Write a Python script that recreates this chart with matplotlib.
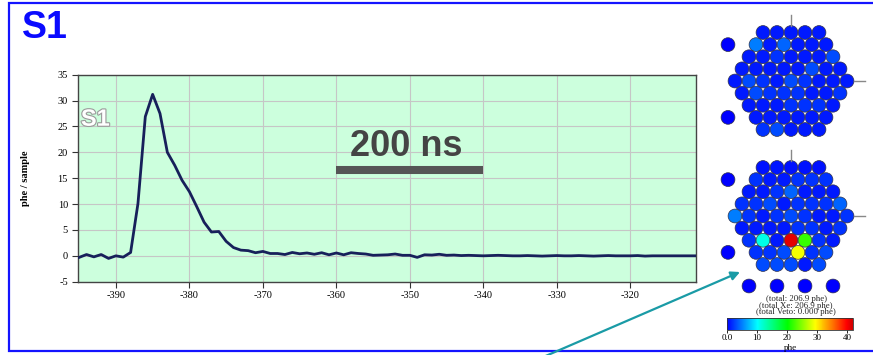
import numpy as np
import matplotlib
matplotlib.use('Agg')
import matplotlib.pyplot as plt
import matplotlib.patheffects as pe
from matplotlib.patches import Circle
from matplotlib.colors import LinearSegmentedColormap, Normalize
from matplotlib.cm import ScalarMappable

plt.rcParams['axes.unicode_minus'] = False

# S1 pulse, one sample per time bin
t_first = -395
wave_phe = [
    -0.3, 0.25, -0.2, 0.25, -0.5, 0.0, -0.25, 0.65, 10.1, 26.9,
    31.2, 27.5, 20.0, 17.5, 14.6, 12.4, 9.5, 6.5, 4.6, 4.7,
    2.8, 1.6, 1.1, 1.0, 0.6, 0.85, 0.45, 0.45, 0.25, 0.65,
    0.4, 0.55, 0.3, 0.6, 0.2, 0.55, 0.2, 0.6, 0.45, 0.35,
    0.1, 0.15, 0.2, 0.35, 0.1, 0.1, -0.3, 0.2, 0.15, 0.3,
    0.1, 0.15, 0.05, 0.1, 0.05, 0.0, 0.05, 0.1, 0.05, 0.0,
    0.0, 0.05, 0.0, -0.05, 0.0, 0.05, 0.0, 0.0, 0.05, 0.0,
    -0.05, 0.0, 0.05, 0.0, 0.0, 0.0, 0.05, -0.05, 0.0, 0.0,
    0.0, 0.0, 0.0, 0.0, 0.0,
]
wave_t = t_first + np.arange(len(wave_phe))

x_ticks = [-390, -380, -370, -360, -350, -340, -330, -320]
y_ticks = [-5, 0, 5, 10, 15, 20, 25, 30, 35]

# phe per PMT, hexagonal rows (5-6-7-8-9-8-7-6-5)
top_rows = [
    [1, 1, 1, 1, 1],
    [5, 1, 4, 1, 1, 1],
    [1, 1, 2, 1, 1, 1, 3],
    [1, 1, 1, 1, 1, 3, 1, 1],
    [1, 3, 2, 1, 3, 2, 1, 1, 1],
    [1, 3, 2, 2, 2, 1, 1, 2],
    [1, 1, 1, 2, 2, 2, 1],
    [1, 1, 1, 1, 1, 1],
    [2, 3, 1, 1, 1],
]
top_veto = [0, 0]

bottom_rows = [
    [0.8, 0.9, 0.7, 0.8, 0.7],
    [2, 1, 1, 2, 2, 2],
    [1, 1, 2, 4, 1, 1, 1],
    [2, 2, 3, 1, 2, 2, 2, 4],
    [5, 2, 1, 2, 3, 2, 1, 1, 2],
    [1, 1, 1, 1, 2, 2, 1, 2],
    [2, 11, 1, 41, 22, 2, 1],
    [2, 2, 3, 29, 2, 3],
    [3, 3, 3, 1, 3],
]
bottom_veto = [0, 0]
bottom_ring = [0, 0, 0, 0]

cbar_ticks = [0, 10, 20, 30, 40]
cbar_ticklabels = ['0.0', '10', '20', '30', '40']
totals = ['(total: 206.9 phe)', '(total Xe: 206.9 phe)', '(total Veto: 0.000 phe)']

W, H = 873, 355
fig = plt.figure(figsize=(W / 100, H / 100), dpi=100)

serif = 'Liberation Serif'
sans = 'Liberation Sans'

# waveform panel
ax = fig.add_axes([77.7 / W, 1 - 281.7 / H, 618 / W, 207 / H])
ax.set_facecolor('#ccffdd')
ax.plot(wave_t, wave_phe, color='#17205a', lw=2.0, zorder=3)
ax.set_xlim(-395.2, -311.1)
ax.set_ylim(-5, 35)
ax.set_xticks(x_ticks)
ax.set_yticks(y_ticks)
ax.grid(color='#c6c6c6', lw=0.8)
ax.set_axisbelow(True)
for s in ax.spines.values():
    s.set_color('#444444')
    s.set_linewidth(1.0)
ax.tick_params(length=4, width=0.8, color='#333333', labelsize=7.5, pad=3)
for lab in ax.get_xticklabels() + ax.get_yticklabels():
    lab.set_family(serif)
ax.set_ylabel('phe / sample', family=serif, fontsize=7.5, weight='bold')
ax.yaxis.set_label_coords((30 - 77.7) / 618, 0.5)

ax.text(-392.8, 26.4, 'S1', ha='center', va='center', fontsize=17,
        weight='bold', family=sans, color='white',
        path_effects=[pe.withStroke(linewidth=1.6, foreground='#9a9a9a')])

# 200 ns scale bar
ax.plot([-360, -340], [16.6, 16.6], color='#555555', lw=5.8,
        solid_capstyle='butt', zorder=4)
ax.text(-350.5, 21.2, '200 ns', ha='center', va='center', fontsize=26,
        weight='bold', family=sans, color='#444444', zorder=4)

# overlay in pixel coordinates for the frame, PMT maps and arrow
ov = fig.add_axes([0, 0, 1, 1])
ov.set_xlim(0, W)
ov.set_ylim(H, 0)
ov.axis('off')
ov.patch.set_alpha(0)

ov.plot([W + 5, 9, 9, W + 5], [3, 3, 351, 351], color='#1414ff', lw=1.6,
        solid_joinstyle='miter')
ov.text(22, 28, 'S1', ha='left', va='center', fontsize=27, weight='bold',
        family=sans, color='#0a0aff')

cmap = LinearSegmentedColormap.from_list(
    'phe', [(0.0, '#0000ff'), (0.24, '#00ffff'), (0.48, '#00ff00'),
            (0.70, '#ffff00'), (0.85, '#ff6a00'), (0.95, '#ff0000'),
            (1.0, '#cc0000')])
norm = Normalize(0, 42)

pitch = 14.0
rad = 6.9


def draw_array(rows, veto, cx, cy, ring=None):
    dy = pitch * np.sqrt(3) / 2
    nmid = len(rows) // 2
    for i, vals in enumerate(rows):
        n = len(vals)
        y = cy + (i - nmid) * dy
        for j, v in enumerate(vals):
            x = cx + (j - (n - 1) / 2) * pitch
            ov.add_patch(Circle((x, y), rad, facecolor=cmap(norm(v)),
                                edgecolor='#30304a', lw=0.5))
    for k, v in enumerate(veto):
        y = cy + (-3 if k == 0 else 3) * dy
        ov.add_patch(Circle((cx - 4.5 * pitch, y), rad, facecolor=cmap(norm(v)),
                            edgecolor='#30304a', lw=0.5))
    if ring is not None:
        for k, v in enumerate(ring):
            x = cx + (2 * k - (len(ring) - 1)) * pitch
            ov.add_patch(Circle((x, cy + 5 * pitch), rad, facecolor=cmap(norm(v)),
                                edgecolor='#30304a', lw=0.5))
    # orientation marks
    ov.plot([cx, cx], [cy - 4 * dy - 18, cy - 4 * dy - 7], color='#888888', lw=1)
    ov.plot([cx + 4 * pitch + 7, cx + 4 * pitch + 18], [cy, cy], color='#888888', lw=1)


draw_array(top_rows, top_veto, 791, 81)
draw_array(bottom_rows, bottom_veto, 791, 216, ring=bottom_ring)

for k, txt in enumerate(totals):
    ov.text(796, 299 + 6.5 * k, txt, ha='center', va='center', fontsize=6.3,
            family=serif, color='#222222')

ov.annotate('', xy=(740, 272), xytext=(541, 358),
            arrowprops=dict(arrowstyle='-|>', color='#1a9ba6', lw=1.6,
                            mutation_scale=13, shrinkA=0, shrinkB=0),
            annotation_clip=False)

# colour scale
cax = fig.add_axes([727 / W, 1 - 330 / H, 126 / W, 12 / H])
cb = fig.colorbar(ScalarMappable(norm=norm, cmap=cmap), cax=cax,
                  orientation='horizontal')
cb.set_ticks(cbar_ticks)
cb.set_ticklabels(cbar_ticklabels)
cb.outline.set_edgecolor('#333333')
cb.outline.set_linewidth(0.6)
cax.tick_params(labelsize=6.5, length=2, width=0.6, pad=1)
for lab in cax.get_xticklabels():
    lab.set_family(serif)
cb.set_label('phe', family=serif, fontsize=6.5, labelpad=1)

fig.savefig('out.png', dpi=100)
